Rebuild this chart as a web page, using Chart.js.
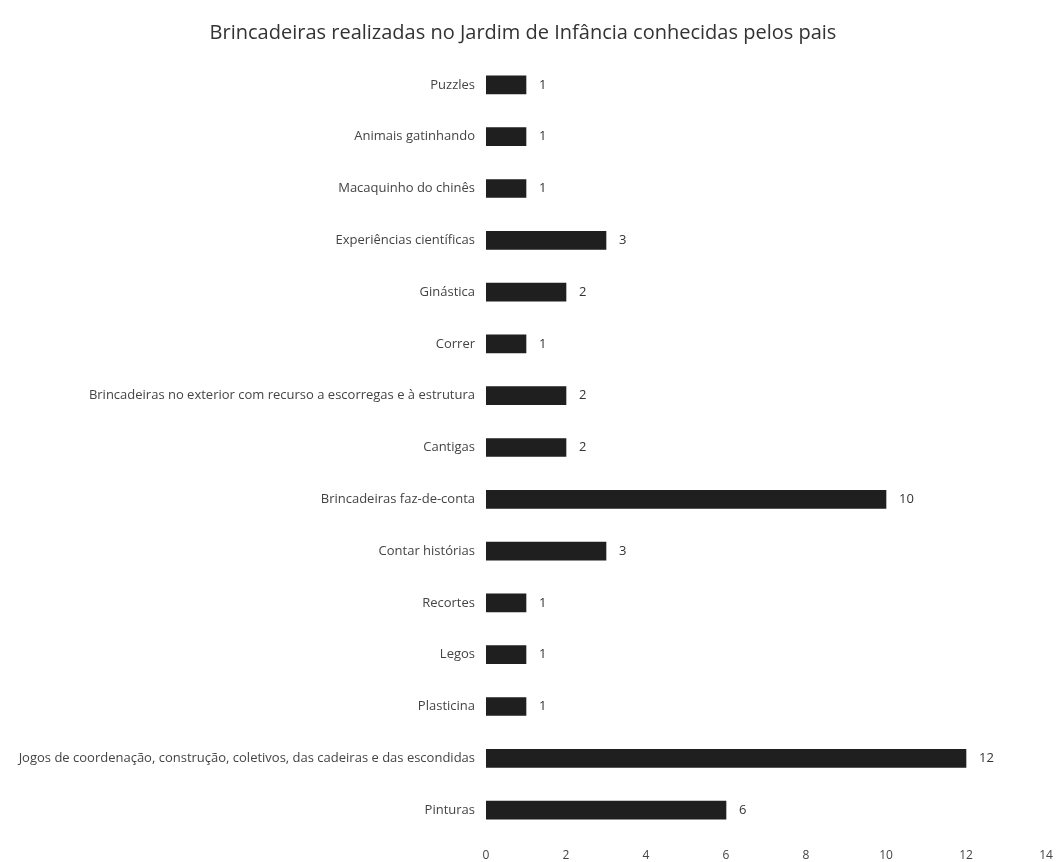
<!DOCTYPE html>
<html>
<head>
<meta charset="utf-8">
<script src="https://cdn.jsdelivr.net/npm/chart.js@4"></script>
<style>
  html, body { margin: 0; padding: 0; background: #fff; }
  #wrap { width: 1058px; height: 862px; }
</style>
</head>
<body>
<div id="wrap"><canvas id="grafico"></canvas></div>
<script>
const categorias = [
  "Puzzles",
  "Animais gatinhando",
  "Macaquinho do chinês",
  "Experiências científicas",
  "Ginástica",
  "Correr",
  "Brincadeiras no exterior com recurso a escorregas e à estrutura",
  "Cantigas",
  "Brincadeiras faz-de-conta",
  "Contar histórias",
  "Recortes",
  "Legos",
  "Plasticina",
  "Jogos de coordenação, construção, coletivos, das cadeiras e das escondidas",
  "Pinturas"
];
const valores = [1, 1, 1, 3, 2, 1, 2, 2, 10, 3, 1, 1, 1, 12, 6];
const ticksX = [0, 2, 4, 6, 8, 10, 12, 14];

// escreve o valor a direita de cada barra
const rotulosValor = {
  id: "rotulosValor",
  afterDatasetsDraw(chart) {
    const ctx = chart.ctx;
    const meta = chart.getDatasetMeta(0);
    ctx.save();
    ctx.font = "13px 'Open Sans', sans-serif";
    ctx.fillStyle = "#333";
    ctx.textAlign = "left";
    ctx.textBaseline = "middle";
    meta.data.forEach((bar, i) => {
      ctx.fillText(String(valores[i]), bar.x + 13, bar.y);
    });
    ctx.restore();
  }
};

new Chart(document.getElementById("grafico"), {
  type: "bar",
  data: {
    labels: categorias,
    datasets: [{
      data: valores,
      backgroundColor: "#1f1f1f",
      barThickness: 18
    }]
  },
  options: {
    indexAxis: "y",
    responsive: true,
    maintainAspectRatio: false,
    animation: false,
    layout: { padding: { left: 0, right: 12, top: 0, bottom: 0 } },
    plugins: {
      legend: { display: false },
      tooltip: { enabled: false },
      title: {
        display: true,
        text: "Brincadeiras realizadas no Jardim de Infância conhecidas pelos pais",
        color: "#333",
        font: { family: "'Open Sans', sans-serif", size: 20, weight: "normal" },
        padding: { top: 21, bottom: 14 }
      }
    },
    scales: {
      x: {
        min: 0,
        max: 14,
        afterBuildTicks: scale => { scale.ticks = ticksX.map(v => ({ value: v })); },
        afterFit: scale => {
          scale.height = 26;
          scale.paddingRight = 0;
        },
        grid: { display: false, drawTicks: false },
        border: { display: false },
        ticks: {
          color: "#444",
          padding: 12,
          font: { family: "'Open Sans', sans-serif", size: 12 }
        }
      },
      y: {
        afterFit: scale => { scale.width = 486; },
        grid: { display: false, drawTicks: false },
        border: { display: false },
        ticks: {
          color: "#444",
          padding: 11,
          font: { family: "'Open Sans', sans-serif", size: 13 }
        }
      }
    }
  },
  plugins: [rotulosValor]
});
</script>
</body>
</html>
